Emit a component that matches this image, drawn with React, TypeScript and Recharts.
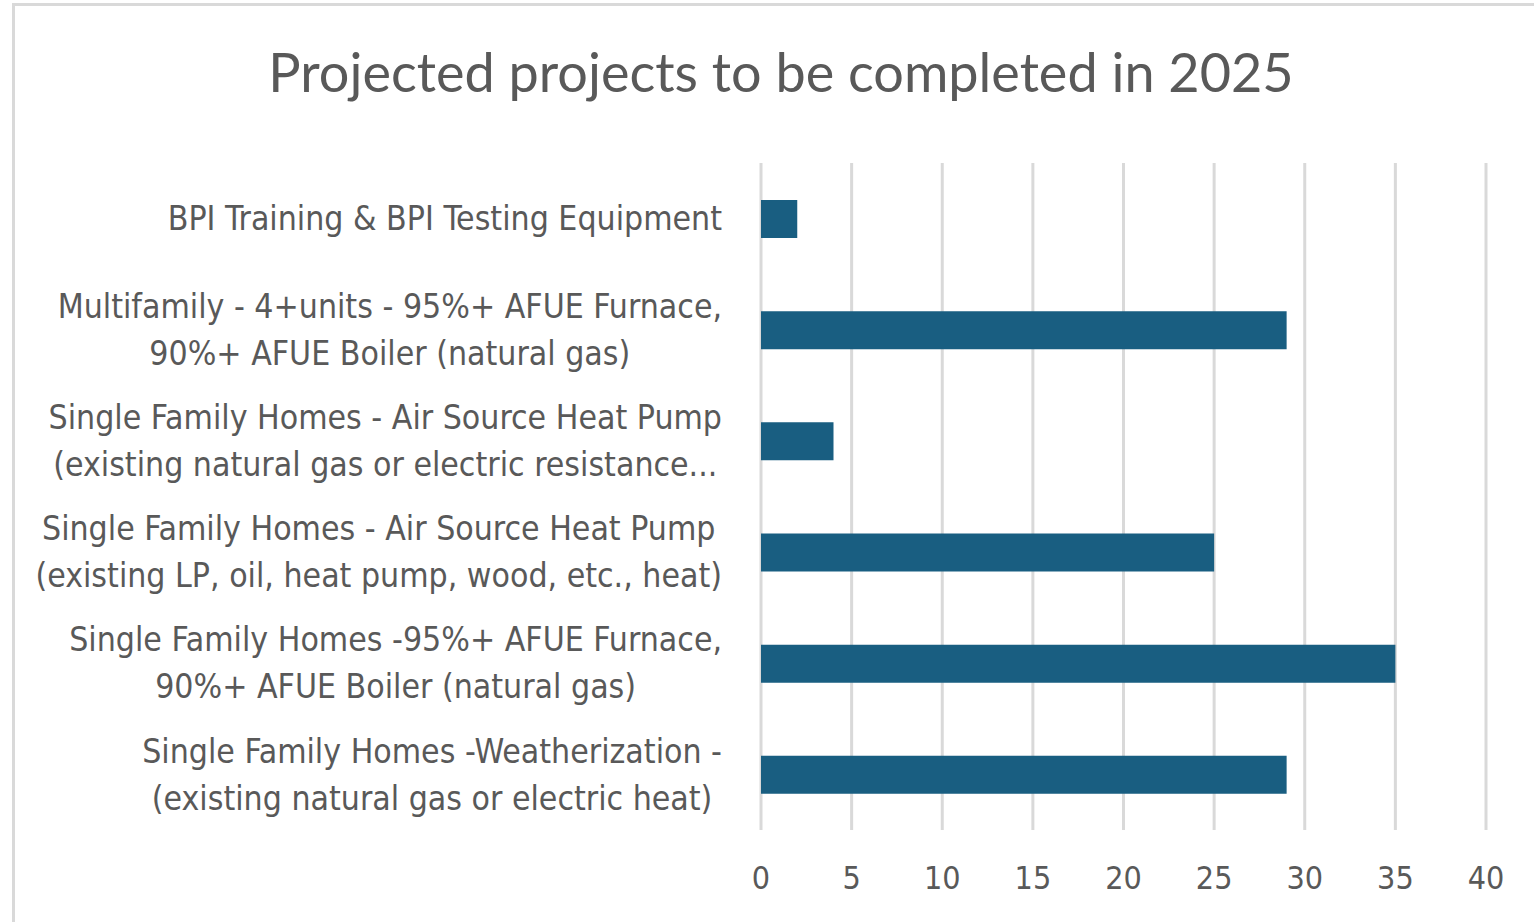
import { BarChart, Bar, XAxis, YAxis, CartesianGrid } from 'recharts'

const categories = [
  'BPI Training & BPI Testing Equipment',
  'Multifamily - 4+units - 95%+ AFUE Furnace,\n90%+ AFUE Boiler (natural gas)',
  'Single Family Homes - Air Source Heat Pump\n(existing natural gas or electric resistance...',
  'Single Family Homes - Air Source Heat Pump\n(existing LP, oil, heat pump, wood, etc., heat)',
  'Single Family Homes -95%+ AFUE Furnace,\n90%+ AFUE Boiler (natural gas)',
  'Single Family Homes -Weatherization -\n(existing natural gas or electric heat)',
]
const projects = [2, 29, 4, 25, 35, 29]
const xTicks = [0, 5, 10, 15, 20, 25, 30, 35, 40]

const data = categories.map((name, i) => ({ name, value: projects[i] }))

const TEXT = '#595959'
const BAR = '#195E81'
const GRID = '#d9d9d9'
const LABEL_FONT = "'Liberation Sans Narrow', 'DejaVu Sans Condensed', sans-serif"
const LABEL_SIZE = 33.5

let ctx: CanvasRenderingContext2D | null = null
const textWidth = (s: string) => {
  if (!ctx) ctx = document.createElement('canvas').getContext('2d')
  if (!ctx) return s.length * LABEL_SIZE * 0.45
  ctx.font = `${LABEL_SIZE}px ${LABEL_FONT}`
  return ctx.measureText(s).width
}

// wrapped label: lines centred on each other, block right-aligned next to the plot
const CategoryTick = ({ x, y, payload }: { x?: number; y?: number; payload?: { value: string } }) => {
  const lines = String(payload?.value ?? '').split('\n')
  const blockW = Math.max(...lines.map(textWidth))
  const cx = (x ?? 0) - 37 - blockW / 2
  const lh = 47
  const top = (y ?? 0) - ((lines.length - 1) * lh) / 2
  return (
    <text fill={TEXT} fontSize={LABEL_SIZE} fontFamily={LABEL_FONT} textAnchor="middle">
      {lines.map((l, i) => (
        <tspan key={i} x={cx} y={top + i * lh} dy="0.35em">{l}</tspan>
      ))}
    </text>
  )
}

const ValueTick = ({ x, y, payload }: { x?: number; y?: number; payload?: { value: number } }) => (
  <text x={x} y={(y ?? 0) + 46} dy="0.35em" textAnchor="middle" fill={TEXT}
    fontSize={32} fontFamily={LABEL_FONT}>
    {payload?.value}
  </text>
)

export default function App() {
  return (
    <div style={{ position: 'absolute', left: 0, top: 0, width: 1534, height: 922, overflow: 'hidden', background: '#fff' }}>
      <div style={{ position: 'absolute', left: 12, top: 3, width: 1600, height: 1000, borderLeft: `3px solid ${GRID}`, borderTop: `3px solid ${GRID}` }} />
      <div style={{ position: 'absolute', left: 0, top: 38, width: 1562, textAlign: 'center', color: TEXT,
        fontFamily: "Lato, 'Open Sans', sans-serif", fontSize: 54, lineHeight: '68px' }}>
        Projected projects to be completed in 2025
      </div>
      <div style={{ position: 'absolute', left: 0, top: 0 }}>
        <BarChart width={1534} height={922} data={data} layout="vertical"
          margin={{ top: 163, right: 48, bottom: 32, left: 0 }}>
          <CartesianGrid horizontal={false} stroke={GRID} strokeWidth={3} />
          <XAxis type="number" domain={[0, 40]} ticks={xTicks} axisLine={false} tickLine={false}
            tickSize={0} height={60} tick={<ValueTick />} interval={0} />
          <YAxis type="category" dataKey="name" width={761} axisLine={false} tickLine={false}
            tickSize={0} tick={<CategoryTick />} interval={0} />
          <Bar dataKey="value" fill={BAR} barSize={38} isAnimationActive={false} />
        </BarChart>
      </div>
    </div>
  )
}
